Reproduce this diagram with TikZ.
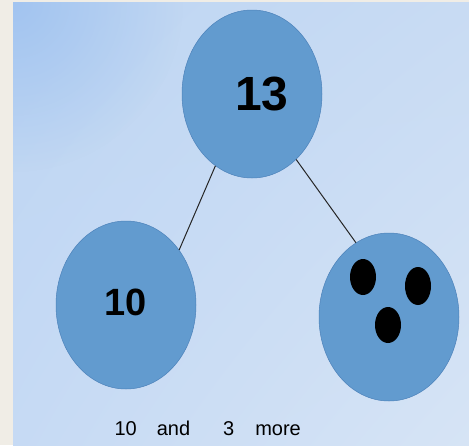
\documentclass[tikz,border=0pt]{standalone}
\usepackage{fontspec}
\setmainfont{Liberation Sans}
\usetikzlibrary{shapes.geometric,shadings,fadings}

\definecolor{paper}{HTML}{F0EDE6}
\definecolor{skycorner}{HTML}{A2C4F0}
\definecolor{skytl}{HTML}{BDD5F3}
\definecolor{skytr}{HTML}{C8DBF3}
\definecolor{skybl}{HTML}{C6DAF4}
\definecolor{skybr}{HTML}{D6E4F5}
\definecolor{bubblefill}{HTML}{629BCF}
\definecolor{bubbleedge}{HTML}{4C82BA}

\tikzfading[name=cornerglow, inner color=transparent!0, outer color=transparent!100]

\tikzset{
  bubble/.style={ellipse, draw=bubbleedge, fill=bubblefill, line width=0.5pt,
    minimum width=140pt, minimum height=168pt, inner sep=0pt},
  bignum/.style={font=\bfseries\fontsize{48}{48}\selectfont},
  stem/.style={line width=1pt, draw=black!85}
}

\begin{document}
\begin{tikzpicture}[x=1pt, y=-1pt]
    \useasboundingbox (0,0) rectangle (469,445);
    % page and slide background
    \fill[paper] (0,0) rectangle (469,445);
    \shade[upper left=skytl, upper right=skytr, lower left=skybl, lower right=skybr]
        (13,2) rectangle (469,445);
    \begin{scope}
        \clip (13,2) rectangle (469,445);
        \fill[skycorner, path fading=cornerglow] (13,2) circle [radius=170pt];
    \end{scope}

    % the whole and its two parts
    \node[bubble, label={[bignum, xshift=10pt]center:13}] (whole) at (252,94) {};
    \node[bubble, label={[font=\bfseries\fontsize{38}{38}\selectfont, yshift=3pt]center:10}] (tens) at (126,305) {};
    \node[bubble] (ones) at (389,317) {};

    % three counters in the right part
    \fill (363,277) ellipse [x radius=13pt, y radius=18pt];
    \fill (418,286) ellipse [x radius=13pt, y radius=19pt];
    \fill (388,325) ellipse [x radius=13pt, y radius=18pt];

    \draw[stem] (whole.243) -- (tens.46);
    \draw[stem] (whole.304) -- (ones.114);

    \node[anchor=base west, font=\fontsize{20}{20}\selectfont] (caption) at (111,435)
        {10\hspace{20pt}and\hspace{33pt}3\hspace{21pt}more};
\end{tikzpicture}
\end{document}
